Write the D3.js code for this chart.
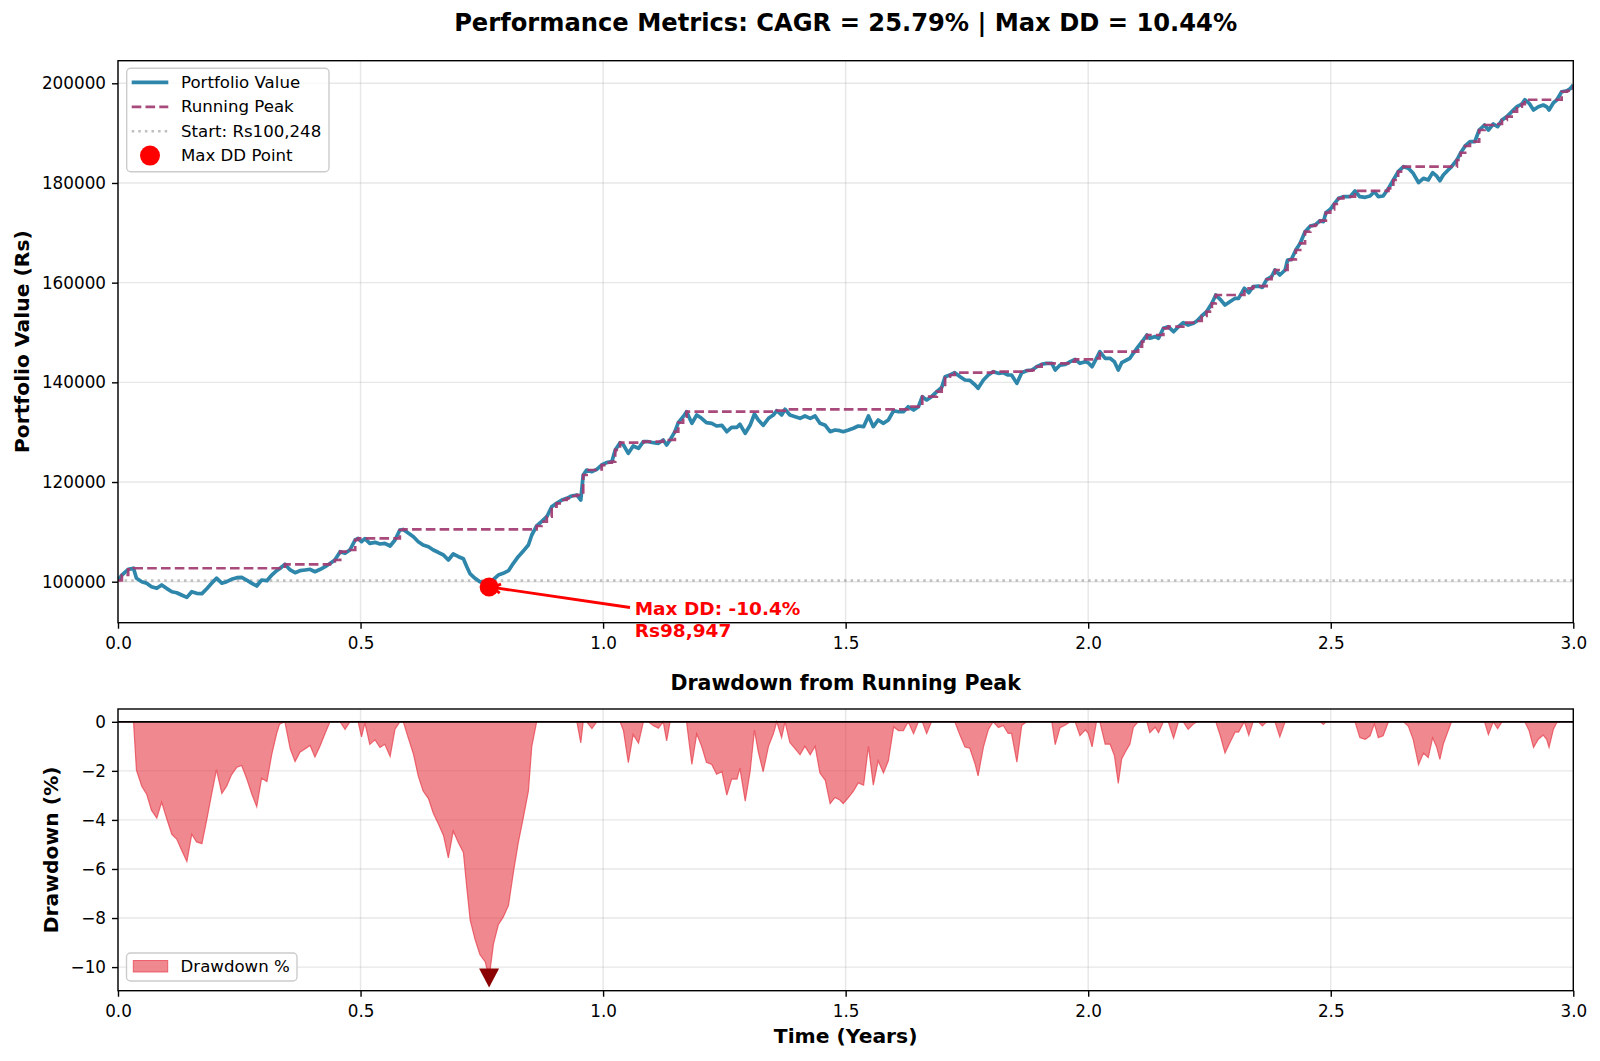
<!DOCTYPE html>
<html>
<head>
<meta charset="utf-8">
<script src="https://cdn.jsdelivr.net/npm/d3@7"></script>
<style>
body { margin: 0; background: #fff; }
svg { display: block; font-family: "DejaVu Sans", sans-serif; }
</style>
</head>
<body>
<svg id="chart" width="1600" height="1061"></svg>
<script>
// values (years, portfolio value in Rs)
var years = [
  0.000, 0.008, 0.021, 0.032, 0.038, 0.049, 0.059, 0.069, 0.080, 0.090,
  0.100, 0.111, 0.121, 0.131, 0.142, 0.152, 0.162, 0.173, 0.183, 0.193,
  0.203, 0.214, 0.224, 0.234, 0.245, 0.255, 0.265, 0.276, 0.286, 0.296,
  0.307, 0.317, 0.327, 0.333, 0.344, 0.355, 0.365, 0.375, 0.386, 0.396,
  0.406, 0.417, 0.427, 0.437, 0.447, 0.458, 0.468, 0.478, 0.489, 0.495,
  0.502, 0.509, 0.519, 0.530, 0.540, 0.550, 0.561, 0.571, 0.581, 0.588,
  0.599, 0.609, 0.619, 0.629, 0.640, 0.650, 0.660, 0.671, 0.681, 0.691,
  0.702, 0.712, 0.719, 0.726, 0.736, 0.746, 0.757, 0.765, 0.774, 0.784,
  0.794, 0.805, 0.815, 0.825, 0.836, 0.846, 0.853, 0.863, 0.873, 0.884,
  0.894, 0.904, 0.915, 0.925, 0.935, 0.946, 0.954, 0.959, 0.966, 0.977,
  0.987, 0.997, 1.007, 1.018, 1.025, 1.035, 1.042, 1.052, 1.062, 1.073,
  1.083, 1.093, 1.104, 1.114, 1.124, 1.131, 1.138, 1.148, 1.155, 1.165,
  1.172, 1.183, 1.193, 1.203, 1.213, 1.224, 1.234, 1.245, 1.255, 1.265,
  1.276, 1.282, 1.293, 1.303, 1.312, 1.320, 1.330, 1.341, 1.351, 1.358,
  1.368, 1.375, 1.385, 1.396, 1.406, 1.416, 1.427, 1.437, 1.447, 1.458,
  1.468, 1.478, 1.488, 1.495, 1.506, 1.516, 1.526, 1.537, 1.547, 1.557,
  1.567, 1.578, 1.588, 1.599, 1.609, 1.619, 1.629, 1.640, 1.650, 1.658,
  1.667, 1.677, 1.688, 1.698, 1.705, 1.715, 1.725, 1.736, 1.746, 1.756,
  1.767, 1.773, 1.784, 1.794, 1.804, 1.815, 1.825, 1.835, 1.842, 1.853,
  1.863, 1.873, 1.884, 1.894, 1.904, 1.914, 1.925, 1.932, 1.942, 1.953,
  1.963, 1.973, 1.983, 1.994, 2.000, 2.008, 2.017, 2.024, 2.035, 2.045,
  2.054, 2.062, 2.069, 2.079, 2.086, 2.093, 2.103, 2.111, 2.121, 2.127,
  2.138, 2.145, 2.155, 2.165, 2.176, 2.186, 2.196, 2.206, 2.217, 2.224,
  2.234, 2.244, 2.255, 2.263, 2.272, 2.282, 2.292, 2.303, 2.310, 2.322,
  2.331, 2.340, 2.351, 2.359, 2.368, 2.378, 2.385, 2.395, 2.406, 2.411,
  2.419, 2.428, 2.437, 2.447, 2.458, 2.468, 2.478, 2.485, 2.490, 2.499,
  2.507, 2.516, 2.526, 2.540, 2.550, 2.560, 2.571, 2.581, 2.590, 2.598,
  2.608, 2.619, 2.629, 2.639, 2.650, 2.660, 2.670, 2.681, 2.691, 2.701,
  2.710, 2.718, 2.725, 2.732, 2.742, 2.749, 2.760, 2.768, 2.777, 2.787,
  2.797, 2.806, 2.817, 2.825, 2.835, 2.844, 2.853, 2.863, 2.873, 2.884,
  2.894, 2.900, 2.909, 2.918, 2.928, 2.938, 2.945, 2.950, 2.959, 2.966,
  2.976, 2.987, 2.994, 3.000
];

var portfolio = [
  100248, 101340, 102490, 102700, 100680, 100000, 99670, 99000, 98670, 99340,
  98670, 97990, 97790, 97330, 96850, 97990, 97670, 97600, 98600, 99670,
  100700, 99700, 100000, 100480, 100800, 100870, 100340, 99670, 99140, 100340,
  100200, 101340, 102210, 102600, 103490, 102350, 101810, 102210, 102350, 102490,
  102000, 102490, 103010, 103650, 104350, 106020, 105690, 106360, 108400, 108700,
  108030, 108650, 107700, 107900, 107560, 107700, 107160, 108370, 110370, 110480,
  109710, 109030, 108030, 107360, 107020, 106360, 105900, 105360, 104350, 105560,
  105020, 104600, 103010, 101550, 100680, 100000, 99670, 98947, 100480, 101340,
  101680, 102210, 103690, 105020, 106220, 107360, 109370, 111180, 112040, 113040,
  115050, 115730, 116390, 116730, 117200, 117400, 116390, 121410, 122410, 122070,
  122550, 123410, 123880, 124080, 126430, 127890, 127430, 125760, 127230, 126770,
  128090, 128090, 127890, 127760, 128430, 127430, 128430, 130100, 131900, 133110,
  134110, 131780, 133450, 132780, 131900, 131780, 131240, 131380, 130100, 130980,
  130980, 131580, 129770, 131380, 133650, 132450, 131380, 132780, 133450, 134310,
  133450, 134590, 133450, 133110, 132780, 133250, 132780, 133250, 131780, 131380,
  130100, 130440, 130300, 130100, 130440, 130780, 131240, 131110, 133250, 131110,
  132450, 131780, 132450, 134310, 134110, 134110, 135110, 134450, 135110, 137120,
  136460, 137120, 138120, 139000, 141130, 141470, 141930, 141130, 140470, 140400,
  139470, 138800, 140470, 141470, 142140, 141810, 141930, 141470, 141470, 139800,
  141930, 142340, 142470, 143140, 143620, 143810, 143810, 142470, 143470, 143620,
  144140, 144620, 143810, 144140, 143940, 143140, 144820, 146150, 144820, 144820,
  144140, 142480, 143940, 144480, 144820, 145820, 147150, 148150, 149500, 148840,
  149170, 148840, 150840, 151170, 150160, 151170, 151970, 151500, 151840, 152310,
  153310, 154170, 155860, 157520, 156660, 155520, 156180, 156860, 156860, 158870,
  157990, 159190, 159320, 159050, 160680, 161190, 162540, 161540, 162540, 164550,
  164680, 166550, 167900, 170220, 171370, 171590, 172430, 172250, 174040, 174720,
  175780, 176920, 177250, 177250, 178400, 177250, 177120, 177380, 178250, 177250,
  177380, 178920, 180600, 182270, 183270, 182940, 181940, 180060, 180940, 180600,
  182070, 181410, 180460, 181600, 182600, 183270, 184610, 186070, 187420, 188280,
  188280, 190630, 191630, 190630, 191830, 191300, 192640, 193310, 194300, 195300,
  195840, 196700, 195980, 194640, 195300, 195640, 195300, 194640, 196110, 196640,
  198300, 198500, 198970, 199660
];

var startValue = 100248;
var maxDDYear = 0.765;
var maxDDValue = 98947;
var maxDDPct = -10.44;

var yearTicks = [0, 0.5, 1, 1.5, 2, 2.5, 3];
var valueTicks = [100000, 120000, 140000, 160000, 180000, 200000];
var ddTicks = [0, -2, -4, -6, -8, -10];

// running peak and drawdown from the portfolio series
var rows = [];
var runMax = -Infinity;
years.forEach(function(t, i) {
  runMax = Math.max(runMax, portfolio[i]);
  rows.push({t: t, v: portfolio[i], peak: runMax, dd: (portfolio[i] / runMax - 1) * 100});
});

var svg = d3.select("#chart");

var left = 118, right = 1573.3;
var top1 = 60.7, bot1 = 622.7;
var top2 = 709, bot2 = 990.7;

var x = d3.scaleLinear().domain([0, 3]).range([left, right]);
var y1 = d3.scaleLinear().domain([91774, 204534]).range([bot1, top1]);
var y2 = d3.scaleLinear().domain([-10.962, 0.522]).range([bot2, top2]);

var blue = "#2E86AB", purple = "#A23B72", ddRed = "#E63946";

svg.append("defs").append("clipPath").attr("id", "clip1")
  .append("rect").attr("x", left).attr("y", top1).attr("width", right - left).attr("height", bot1 - top1);
svg.select("defs").append("clipPath").attr("id", "clip2")
  .append("rect").attr("x", left).attr("y", top2).attr("width", right - left).attr("height", bot2 - top2);

// title
svg.append("text")
  .attr("x", (left + right) / 2).attr("y", 23)
  .attr("text-anchor", "middle").attr("dominant-baseline", "central")
  .style("font-size", "24.2px").style("font-weight", "bold")
  .text("Performance Metrics: CAGR = 25.79% | Max DD = 10.44%");

// ---------- top panel ----------
var g1 = svg.append("g");

g1.selectAll(".vgrid").data(yearTicks).enter().append("line")
  .attr("x1", function(d) { return x(d); }).attr("x2", function(d) { return x(d); })
  .attr("y1", top1).attr("y2", bot1)
  .style("stroke", "#b0b0b0").style("stroke-opacity", 0.3).style("stroke-width", 1.4);
g1.selectAll(".hgrid").data(valueTicks).enter().append("line")
  .attr("x1", left).attr("x2", right)
  .attr("y1", function(d) { return y1(d); }).attr("y2", function(d) { return y1(d); })
  .style("stroke", "#b0b0b0").style("stroke-opacity", 0.3).style("stroke-width", 1.4);

var plot1 = g1.append("g").attr("clip-path", "url(#clip1)");

plot1.append("line")
  .attr("x1", left).attr("x2", right)
  .attr("y1", y1(startValue)).attr("y2", y1(startValue))
  .style("stroke", "gray").style("stroke-opacity", 0.5).style("stroke-width", 2.5)
  .style("stroke-dasharray", "2.5,4.1");

plot1.append("path")
  .datum(rows)
  .attr("d", d3.line().x(function(d) { return x(d.t); }).y(function(d) { return y1(d.v); }))
  .style("fill", "none").style("stroke", blue).style("stroke-width", 3.7)
  .style("stroke-linejoin", "round").style("stroke-linecap", "butt");

plot1.append("path")
  .datum(rows)
  .attr("d", d3.line().curve(d3.curveStepAfter).x(function(d) { return x(d.t); }).y(function(d) { return y1(d.peak); }))
  .style("fill", "none").style("stroke", purple).style("stroke-opacity", 0.92).style("stroke-width", 2.7)
  .style("stroke-dasharray", "9.6,4.2");

// annotation arrow + text
var px = x(maxDDYear), py = y1(maxDDValue);
var sx = 630, sy = 607.5;
var dx = sx - px, dy = sy - py, len = Math.sqrt(dx * dx + dy * dy);
var ux = dx / len, uy = dy / len;
var tx = px + ux * 3.4, ty = py + uy * 3.4;
g1.append("line")
  .attr("x1", sx).attr("y1", sy).attr("x2", tx).attr("y2", ty)
  .style("stroke", "red").style("stroke-width", 2.8);
var hl = 8, hw = 4.5;
g1.append("path")
  .attr("d", "M" + (tx + ux * hl - uy * hw) + "," + (ty + uy * hl + ux * hw) +
             "L" + tx + "," + ty +
             "L" + (tx + ux * hl + uy * hw) + "," + (ty + uy * hl - ux * hw))
  .style("fill", "none").style("stroke", "red").style("stroke-width", 2.8);

g1.append("circle")
  .attr("cx", px).attr("cy", py).attr("r", 9.5)
  .style("fill", "red");

var ann = g1.append("text")
  .attr("x", 634.7).attr("y", 609)
  .style("font-size", "18.5px").style("font-weight", "bold").style("fill", "red");
ann.append("tspan").attr("x", 634.7).attr("dy", "0.35em")
  .text("Max DD: " + maxDDPct.toFixed(1) + "%");
ann.append("tspan").attr("x", 634.7).attr("dy", "1.16em")
  .text("Rs" + d3.format(",")(maxDDValue));

// axes
g1.append("g").attr("transform", "translate(0," + bot1 + ")")
  .call(d3.axisBottom(x).tickValues(yearTicks).tickFormat(d3.format(".1f")).tickSize(6).tickPadding(8));
g1.append("g").attr("transform", "translate(" + left + ",0)")
  .call(d3.axisLeft(y1).tickValues(valueTicks).tickFormat(d3.format("d")).tickSize(6).tickPadding(6));

g1.append("rect")
  .attr("x", left).attr("y", top1).attr("width", right - left).attr("height", bot1 - top1)
  .style("fill", "none").style("stroke", "#000").style("stroke-width", 1.4);

// legend
var lg = g1.append("g");
lg.append("rect")
  .attr("x", 126.7).attr("y", 68.3).attr("width", 202.3).attr("height", 103.4).attr("rx", 4)
  .style("fill", "#fff").style("fill-opacity", 0.8).style("stroke", "#cccccc").style("stroke-width", 1.4);
var legendItems = ["Portfolio Value", "Running Peak", "Start: Rs" + d3.format(",")(startValue), "Max DD Point"];
legendItems.forEach(function(label, i) {
  var ly = 82.4 + i * 24.4;
  if (i === 0) {
    lg.append("line").attr("x1", 131.7).attr("x2", 168.3).attr("y1", ly).attr("y2", ly)
      .style("stroke", blue).style("stroke-width", 3.7);
  } else if (i === 1) {
    lg.append("line").attr("x1", 131.7).attr("x2", 168.3).attr("y1", ly).attr("y2", ly)
      .style("stroke", purple).style("stroke-opacity", 0.92).style("stroke-width", 2.7)
      .style("stroke-dasharray", "9.6,4.2");
  } else if (i === 2) {
    lg.append("line").attr("x1", 131.7).attr("x2", 168.3).attr("y1", ly).attr("y2", ly)
      .style("stroke", "gray").style("stroke-opacity", 0.5).style("stroke-width", 2.5)
      .style("stroke-dasharray", "2.5,4.1");
  } else {
    lg.append("circle").attr("cx", 150).attr("cy", ly).attr("r", 10).style("fill", "red");
  }
  lg.append("text").attr("x", 181).attr("y", ly).attr("dominant-baseline", "central")
    .style("font-size", "16.6px").text(label);
});

g1.append("text")
  .attr("transform", "translate(22.4," + ((top1 + bot1) / 2) + ") rotate(-90)")
  .attr("text-anchor", "middle").attr("dominant-baseline", "central")
  .style("font-size", "20.3px").style("font-weight", "bold")
  .text("Portfolio Value (Rs)");

// ---------- bottom panel ----------
var g2 = svg.append("g");

svg.append("text")
  .attr("x", (left + right) / 2).attr("y", 682.6)
  .attr("text-anchor", "middle").attr("dominant-baseline", "central")
  .style("font-size", "20.5px").style("font-weight", "bold")
  .text("Drawdown from Running Peak");

g2.selectAll(".vgrid").data(yearTicks).enter().append("line")
  .attr("x1", function(d) { return x(d); }).attr("x2", function(d) { return x(d); })
  .attr("y1", top2).attr("y2", bot2)
  .style("stroke", "#b0b0b0").style("stroke-opacity", 0.3).style("stroke-width", 1.4);
g2.selectAll(".hgrid").data(ddTicks).enter().append("line")
  .attr("x1", left).attr("x2", right)
  .attr("y1", function(d) { return y2(d); }).attr("y2", function(d) { return y2(d); })
  .style("stroke", "#b0b0b0").style("stroke-opacity", 0.3).style("stroke-width", 1.4);

var plot2 = g2.append("g").attr("clip-path", "url(#clip2)");

plot2.append("path")
  .datum(rows)
  .attr("d", d3.area().x(function(d) { return x(d.t); }).y0(y2(0)).y1(function(d) { return y2(d.dd); }))
  .style("fill", ddRed).style("fill-opacity", 0.6);
plot2.append("path")
  .datum(rows)
  .attr("d", d3.line().x(function(d) { return x(d.t); }).y(function(d) { return y2(d.dd); }))
  .style("fill", "none").style("stroke", ddRed).style("stroke-opacity", 0.7).style("stroke-width", 1.2);

plot2.append("line")
  .attr("x1", left).attr("x2", right).attr("y1", y2(0)).attr("y2", y2(0))
  .style("stroke", "#000").style("stroke-width", 1.7);

// max drawdown marker (triangle down)
var mx = x(maxDDYear), my = y2(maxDDPct);
g2.append("path")
  .attr("d", "M" + (mx - 10) + "," + (my - 9.5) + "L" + (mx + 10) + "," + (my - 9.5) + "L" + mx + "," + (my + 9.5) + "Z")
  .style("fill", "#8B0000");

g2.append("g").attr("transform", "translate(0," + bot2 + ")")
  .call(d3.axisBottom(x).tickValues(yearTicks).tickFormat(d3.format(".1f")).tickSize(6).tickPadding(8));
g2.append("g").attr("transform", "translate(" + left + ",0)")
  .call(d3.axisLeft(y2).tickValues(ddTicks).tickFormat(function(d) { return d === 0 ? "0" : "\u2212" + Math.abs(d); }).tickSize(6).tickPadding(6));

g2.append("rect")
  .attr("x", left).attr("y", top2).attr("width", right - left).attr("height", bot2 - top2)
  .style("fill", "none").style("stroke", "#000").style("stroke-width", 1.4);

var lg2 = g2.append("g");
lg2.append("rect")
  .attr("x", 126.5).attr("y", 953).attr("width", 170.5).attr("height", 28).attr("rx", 4)
  .style("fill", "#fff").style("fill-opacity", 0.8).style("stroke", "#cccccc").style("stroke-width", 1.4);
lg2.append("rect")
  .attr("x", 133.3).attr("y", 960.5).attr("width", 34.4).attr("height", 11.5)
  .style("fill", ddRed).style("fill-opacity", 0.6).style("stroke", ddRed).style("stroke-opacity", 0.7);
lg2.append("text").attr("x", 180.6).attr("y", 966.7).attr("dominant-baseline", "central")
  .style("font-size", "16.6px").text("Drawdown %");

g2.append("text")
  .attr("transform", "translate(51," + ((top2 + bot2) / 2) + ") rotate(-90)")
  .attr("text-anchor", "middle").attr("dominant-baseline", "central")
  .style("font-size", "20.3px").style("font-weight", "bold")
  .text("Drawdown (%)");

g2.append("text")
  .attr("x", (left + right) / 2).attr("y", 1035.7)
  .attr("text-anchor", "middle").attr("dominant-baseline", "central")
  .style("font-size", "20.3px").style("font-weight", "bold")
  .text("Time (Years)");

// axis styling
svg.selectAll(".domain").remove();
svg.selectAll(".tick line").style("stroke", "#000").style("stroke-width", 1.4);
svg.selectAll(".tick text").style("font-size", "16.8px").style("font-family", "DejaVu Sans, sans-serif").style("fill", "#000");
</script>
</body>
</html>
